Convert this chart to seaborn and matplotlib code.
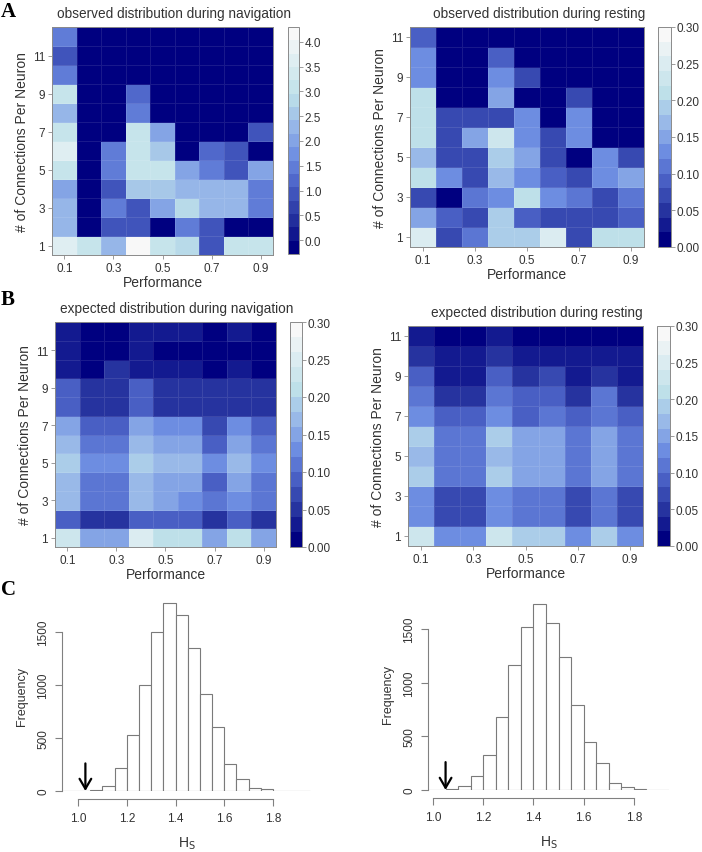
import numpy as np
import pandas as pd
import matplotlib
matplotlib.use("Agg")
import matplotlib.pyplot as plt
import seaborn as sns
from matplotlib.colors import LinearSegmentedColormap, ListedColormap

# ---------------- data ----------------
performance = [0.1, 0.2, 0.3, 0.4, 0.5, 0.6, 0.7, 0.8, 0.9]
perf_ticklabels = ["0.1", "0.3", "0.5", "0.7", "0.9"]

# rows listed from 1 connection (bottom) upward
obs_nav = [
    [3.5, 3.2, 2.2, 4.2, 3.2, 2.8, 1.0, 3.2, 3.2],
    [2.4, -0.1, 1.0, 1.0, -0.1, 1.5, 1.0, -0.1, -0.1],
    [2.2, -0.1, 1.5, 1.0, 2.1, 2.8, 2.2, 2.2, 1.5],
    [2.1, -0.1, 0.9, 2.5, 2.5, 2.2, 2.3, 2.4, 1.5],
    [3.2, -0.1, 1.5, 3.1, 3.1, 2.0, 1.5, 0.9, 2.0],
    [3.5, -0.1, 1.6, 3.1, 2.5, -0.1, 1.1, 1.0, -0.1],
    [3.2, -0.1, -0.1, 3.1, 2.1, -0.1, -0.1, -0.1, 1.0],
    [2.3, -0.1, -0.1, 1.5, -0.1, -0.1, -0.1, -0.1, -0.1],
    [3.1, -0.1, -0.1, 1.1, -0.1, -0.1, -0.1, -0.1, -0.1],
    [1.4, -0.1, -0.1, -0.1, -0.1, -0.1, -0.1, -0.1, -0.1],
    [1.0, -0.1, -0.1, -0.1, -0.1, -0.1, -0.1, -0.1, -0.1],
    [1.4, -0.1, -0.1, -0.1, -0.1, -0.1, -0.1, -0.1, -0.1],
]

obs_rest = [
    [0.24, 0.07, 0.10, 0.19, 0.18, 0.25, 0.07, 0.21, 0.21],
    [0.14, 0.09, 0.06, 0.19, 0.09, 0.07, 0.07, 0.07, 0.09],
    [0.06, 0.005, 0.10, 0.12, 0.21, 0.13, 0.11, 0.07, 0.10],
    [0.20, 0.12, 0.06, 0.16, 0.12, 0.09, 0.07, 0.12, 0.15],
    [0.17, 0.07, 0.07, 0.18, 0.14, 0.07, 0.005, 0.13, 0.07],
    [0.20, 0.07, 0.14, 0.22, 0.12, 0.07, 0.12, 0.005, 0.005],
    [0.20, 0.07, 0.07, 0.07, 0.12, 0.005, 0.13, 0.005, 0.005],
    [0.20, 0.005, 0.005, 0.15, 0.005, 0.005, 0.07, 0.005, 0.005],
    [0.12, 0.005, 0.005, 0.13, 0.07, 0.005, 0.005, 0.005, 0.005],
    [0.12, 0.005, 0.005, 0.08, 0.005, 0.005, 0.005, 0.005, 0.005],
    [0.08, 0.005, 0.005, 0.005, 0.005, 0.005, 0.005, 0.005, 0.005],
]

exp_nav = [
    [0.22, 0.14, 0.14, 0.24, 0.21, 0.21, 0.14, 0.21, 0.14],
    [0.09, 0.04, 0.04, 0.09, 0.08, 0.08, 0.04, 0.08, 0.04],
    [0.16, 0.10, 0.10, 0.16, 0.14, 0.12, 0.10, 0.12, 0.10],
    [0.16, 0.10, 0.10, 0.16, 0.14, 0.14, 0.09, 0.14, 0.10],
    [0.18, 0.12, 0.12, 0.18, 0.16, 0.16, 0.12, 0.16, 0.12],
    [0.16, 0.10, 0.10, 0.16, 0.14, 0.14, 0.09, 0.14, 0.10],
    [0.15, 0.08, 0.08, 0.15, 0.12, 0.12, 0.07, 0.13, 0.08],
    [0.08, 0.05, 0.05, 0.08, 0.05, 0.05, 0.05, 0.05, 0.05],
    [0.08, 0.05, 0.05, 0.08, 0.05, 0.05, 0.05, 0.05, 0.05],
    [0.03, 0.005, 0.04, 0.03, 0.03, 0.03, 0.005, 0.03, 0.005],
    [0.03, 0.005, 0.005, 0.03, 0.005, 0.01, 0.005, 0.01, 0.01],
    [0.03, 0.01, 0.01, 0.03, 0.03, 0.03, 0.005, 0.03, 0.005],
]

exp_rest = [
    [0.22, 0.12, 0.12, 0.23, 0.19, 0.19, 0.12, 0.19, 0.12],
    [0.13, 0.07, 0.07, 0.13, 0.11, 0.11, 0.07, 0.11, 0.07],
    [0.13, 0.07, 0.07, 0.13, 0.11, 0.11, 0.07, 0.11, 0.07],
    [0.18, 0.10, 0.10, 0.19, 0.14, 0.14, 0.10, 0.14, 0.10],
    [0.16, 0.10, 0.10, 0.16, 0.14, 0.14, 0.10, 0.14, 0.10],
    [0.18, 0.10, 0.10, 0.19, 0.15, 0.15, 0.10, 0.15, 0.10],
    [0.12, 0.08, 0.08, 0.12, 0.09, 0.10, 0.08, 0.10, 0.08],
    [0.10, 0.05, 0.05, 0.10, 0.08, 0.09, 0.05, 0.10, 0.05],
    [0.08, 0.02, 0.02, 0.08, 0.05, 0.06, 0.02, 0.05, 0.02],
    [0.05, 0.03, 0.03, 0.05, 0.03, 0.03, 0.03, 0.03, 0.03],
    [0.03, 0.005, 0.005, 0.03, 0.005, 0.005, 0.005, 0.005, 0.005],
]

hist_edges = [0.90, 0.95, 1.00, 1.05, 1.10, 1.15, 1.20, 1.25, 1.30, 1.35, 1.40,
              1.45, 1.50, 1.55, 1.60, 1.65, 1.70, 1.75, 1.80, 1.85, 1.90, 1.95]
nav_counts = [0, 0, 3, 5, 47, 220, 531, 997, 1500, 1770, 1657, 1352, 918, 604,
              252, 116, 31, 16, 2, 1, 0]
rest_counts = [0, 0, 0, 10, 37, 134, 327, 678, 1164, 1522, 1733, 1553, 1245, 797,
               445, 255, 68, 31, 8, 4, 0]
nav_observed_hs = 1.03
rest_observed_hs = 1.05

# ---------------- style ----------------
sns.set_theme(style="white")
plt.rcParams["font.family"] = ["Liberation Sans", "DejaVu Sans"]

W, H = 702, 853
fig = plt.figure(figsize=(W / 100, H / 100), dpi=100)


def px_axes(x0, y0, x1, y1):
    return fig.add_axes([x0 / W, 1 - y1 / H, (x1 - x0) / W, (y1 - y0) / H])


grad = LinearSegmentedColormap.from_list(
    "bw",
    [(0.0, "#000080"), (0.14, "#26339f"), (0.30, "#4c63c8"), (0.43, "#6e8ee2"),
     (0.57, "#98b8e8"), (0.71, "#bde0e9"), (1.0, "#f8f8f8")])

FRAME = "#8a8a8a"
TXT = "#333333"


def heat(data, hx, cx, vmin, vmax, nlev, cticks, cfmt, title):
    ax = px_axes(*hx)
    cax = px_axes(*cx)
    nrows = len(data)
    rows = list(range(1, nrows + 1))
    df = pd.DataFrame(data, index=rows, columns=performance)
    cmap = ListedColormap(grad(np.linspace(0, 1, nlev)))
    sns.heatmap(df, ax=ax, cbar_ax=cax, cmap=cmap, vmin=vmin, vmax=vmax,
                linewidths=0.5, linecolor=(1.0, 1.0, 1.0, 0.10),
                xticklabels=False, yticklabels=False,
                cbar_kws={"ticks": cticks, "format": cfmt})
    ax.invert_yaxis()
    ax.set_xticks([i + 0.5 for i in range(0, 9, 2)])
    ax.set_xticklabels(perf_ticklabels)
    yt = [r for r in rows if r % 2 == 1]
    ax.set_yticks([r - 0.5 for r in yt])
    ax.set_yticklabels([str(r) for r in yt], rotation=0)
    ax.tick_params(axis="both", length=3, width=0.6, color=FRAME,
                   labelsize=8.5, labelcolor=TXT, pad=2, bottom=True, left=True)
    for s in ax.spines.values():
        s.set_visible(True)
        s.set_color(FRAME)
        s.set_linewidth(0.7)
    ax.set_xlabel("Performance", fontsize=10, color=TXT, labelpad=1)
    ax.set_ylabel("# of Connections Per Neuron", fontsize=10, color=TXT, labelpad=3)
    ax.set_title(title, fontsize=9.8, color=TXT, pad=7, x=0.55)
    cbar = ax.collections[0].colorbar
    cbar.outline.set_edgecolor(FRAME)
    cbar.outline.set_linewidth(0.7)
    cax.tick_params(length=3, width=0.6, color=FRAME, labelsize=8.5, labelcolor=TXT, pad=1)
    return ax


heat(obs_nav, (52, 28, 273, 256), (288, 28, 299, 255), -0.28, 4.30, 17,
     [0.0, 0.5, 1.0, 1.5, 2.0, 2.5, 3.0, 3.5, 4.0], "%.1f",
     "observed distribution during navigation")
heat(obs_rest, (410, 28, 644, 248), (658, 28, 671, 248), 0.0, 0.30, 15,
     [0.0, 0.05, 0.10, 0.15, 0.20, 0.25, 0.30], "%.2f",
     "observed distribution during resting")
heat(exp_nav, (55, 323, 276, 548), (290, 323, 302, 548), 0.0, 0.30, 15,
     [0.0, 0.05, 0.10, 0.15, 0.20, 0.25, 0.30], "%.2f",
     "expected distribution during navigation")
heat(exp_rest, (408, 327, 643, 547), (657, 327, 670, 547), 0.0, 0.30, 15,
     [0.0, 0.05, 0.10, 0.15, 0.20, 0.25, 0.30], "%.2f",
     "expected distribution during resting")


def hist(counts, observed, box, xlim):
    ax = px_axes(*box)
    mids = [round((a + b) / 2, 3) for a, b in zip(hist_edges[:-1], hist_edges[1:])]
    df = pd.DataFrame({"hs": mids, "count": counts})
    sns.histplot(data=df, x="hs", weights="count", bins=list(hist_edges), ax=ax,
                 color="white", edgecolor="#7a7a7a", linewidth=0.8, alpha=1)
    ax.set_xlim(*xlim)
    ax.set_ylim(0, 1800)
    ax.annotate("", xy=(observed, 0), xytext=(observed, 260),
                arrowprops=dict(arrowstyle="->,head_length=0.6,head_width=0.35",
                                lw=1.6, color="black", shrinkA=0, shrinkB=0))
    for side in ("top", "right"):
        ax.spines[side].set_visible(False)
    ax.spines["left"].set_bounds(0, 1500)
    ax.spines["bottom"].set_bounds(1.0, 1.8)
    ax.spines["bottom"].set_position(("outward", 6))
    for s in ("left", "bottom"):
        ax.spines[s].set_color("#808080")
        ax.spines[s].set_linewidth(0.8)
    ax.set_yticks([0, 500, 1000, 1500])
    ax.set_yticklabels(["0", "500", "1000", "1500"], rotation=90, va="center")
    ax.set_xticks([1.0, 1.2, 1.4, 1.6, 1.8])
    ax.set_xticklabels(["1.0", "1.2", "1.4", "1.6", "1.8"])
    ax.tick_params(axis="both", length=5, width=0.8, color="#808080",
                   labelsize=8.5, labelcolor=TXT, left=True, bottom=True, pad=4)
    ax.set_ylabel("Frequency", fontsize=9, color=TXT, labelpad=7)
    ax.set_xlabel("H$_\\mathrm{S}$", fontsize=10, color=TXT, labelpad=8)
    ax.grid(False)
    return ax


hist(nav_counts, nav_observed_hs, (62, 601, 312, 792), (0.934, 1.96))
hist(rest_counts, rest_observed_hs, (428, 598, 669, 791), (0.98, 1.94))

for letter, y in (("A", 12), ("B", 300), ("C", 590)):
    fig.text(1 / W, 1 - y / H, letter, fontsize=15, fontweight="bold",
             family="Liberation Serif", va="center", ha="left", color="black")

fig.savefig("out.png", dpi=100)
